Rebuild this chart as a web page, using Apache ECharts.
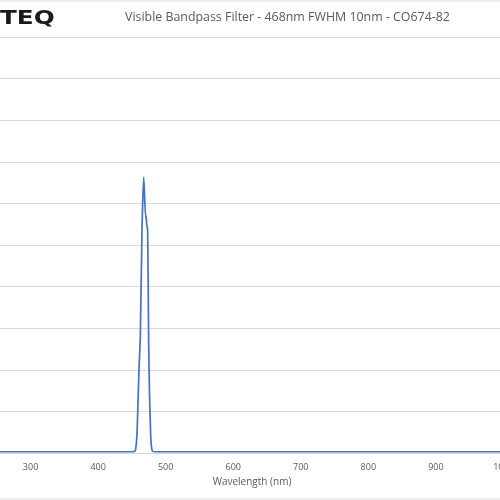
<!DOCTYPE html>
<html>
<head>
<meta charset="utf-8">
<script src="https://cdn.jsdelivr.net/npm/echarts@6/dist/echarts.min.js"></script>
<style>
  html, body { margin: 0; padding: 0; background: #fff; }
  #chart { width: 500px; height: 500px; }
</style>
</head>
<body>
<div id="chart"></div>
<script>
// transmission spectrum (nm, %)
const wavelengths = [200, 300, 400, 440, 450, 454, 455.5, 457.5, 459, 460.5, 462.5, 465, 467.5, 470.4, 471, 472, 473.3, 474.8, 476, 477.8, 479, 480.3, 485, 500, 600, 700, 800, 900, 1000, 1100];
const transmission = [0.3, 0.3, 0.3, 0.3, 0.3, 0.4, 0.8, 4.3, 12, 20, 28, 54, 66.3, 56.5, 57, 54.8, 53.6, 27, 15, 4.3, 1.5, 0.5, 0.3, 0.3, 0.3, 0.3, 0.3, 0.3, 0.3, 0.3];
const titleText = 'Visible Bandpass Filter - 468nm FWHM 10nm - CO674-82';
const logoText = 'TEQ';
const xAxisName = 'Wavelength (nm)';

const chart = echarts.init(document.getElementById('chart'));

chart.setOption({
  backgroundColor: '#fff',
  animation: false,
  grid: { left: -37, right: -71, top: 37, bottom: 47, containLabel: false, outerBoundsMode: 'none' },
  graphic: [
    { type: 'line', shape: { x1: 0, y1: 1, x2: 500, y2: 1 }, style: { stroke: '#d9d9d9', lineWidth: 1 } },
    { type: 'line', shape: { x1: 0, y1: 499, x2: 500, y2: 499 }, style: { stroke: '#d9d9d9', lineWidth: 1 } },
    {
      type: 'text', x: 0, y: 10, scaleX: 1.3,
      style: { text: logoText, fontFamily: 'DejaVu Sans', fontWeight: 'bold', fontSize: 19, fill: '#1a1a1a' }
    },
    {
      type: 'text', left: 125, top: 11,
      style: { text: titleText, fontFamily: 'Open Sans', fontSize: 12.4, fill: '#595959' }
    }
  ],
  xAxis: {
    type: 'value',
    min: 200,
    max: 1100,
    interval: 100,
    name: xAxisName,
    nameLocation: 'middle',
    nameGap: 22,
    nameTextStyle: { color: '#595959', fontFamily: 'Open Sans', fontSize: 10, padding: [0, 30, 0, 0] },
    axisLine: { show: true, lineStyle: { color: '#d9d9d9' } },
    axisTick: { show: false },
    splitLine: { show: false },
    axisLabel: { color: '#595959', fontFamily: 'Open Sans', fontSize: 9, margin: 10, formatter: v => String(v) }
  },
  yAxis: {
    type: 'value',
    min: 0,
    max: 100,
    interval: 10,
    axisLine: { show: false },
    axisTick: { show: false },
    axisLabel: { show: false },
    splitLine: { lineStyle: { color: '#d9d9d9', width: 1 } }
  },
  series: [{
    type: 'line',
    data: wavelengths.map((w, i) => [w, transmission[i]]),
    showSymbol: false,
    smooth: 0.2,
    lineStyle: { color: '#4472c4', width: 1.7 }
  }]
});
</script>
</body>
</html>
